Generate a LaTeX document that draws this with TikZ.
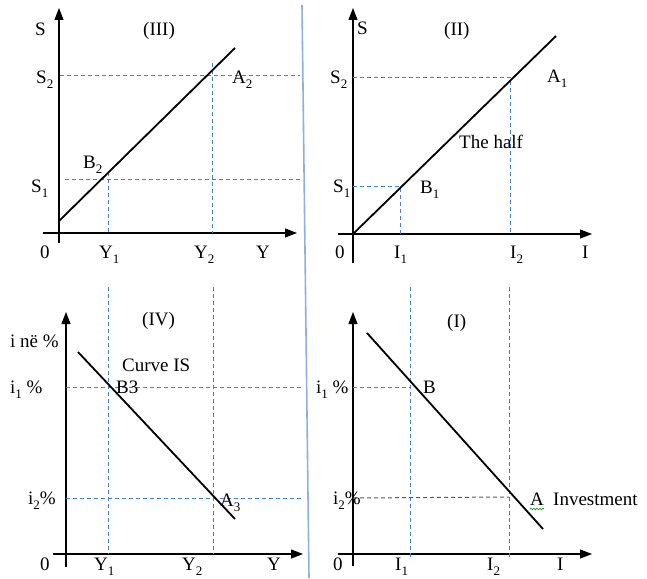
\documentclass[tikz,border=0pt]{standalone}
\usepackage{fontspec}
\setmainfont{Liberation Serif}
\usepackage{tikz}
\usetikzlibrary{arrows.meta,positioning,calc,decorations.pathmorphing}
\definecolor{guideblue}{RGB}{68,130,205}
\definecolor{splitblue}{RGB}{143,176,222}
\newcommand{\lo}[1]{\raisebox{-0.28em}{\fontsize{13}{13}\selectfont #1}}

\begin{document}
\begin{tikzpicture}[
        x=1pt, y=-1pt,
        lbl/.style={anchor=base west, inner sep=0pt, font=\fontsize{19}{21}\selectfont},
        axis/.style={-{Triangle[length=12pt, width=9pt]}, line width=1.2pt},
        curve/.style={line width=1.8pt},
        guide/.style={guideblue, line width=1pt, dash pattern=on 4pt off 3pt},
        guidegray/.style={gray!70!black, line width=1pt, dash pattern=on 4pt off 3pt}
    ]
    \useasboundingbox (0,0) rectangle (647,578);

    % Divider
    \coordinate (D1) at (302,5);
    \coordinate (D2) at (309,578);
    \draw[splitblue, line width=1.6pt] (D1) -- (D2);

    % Quadrant III (top left)
    \coordinate (O3) at (59,233);
    \coordinate (S3top) at (59,8);
    \coordinate (S3bot) at (59,243);
    \coordinate (Y3left) at (43,233);
    \coordinate (Y3right) at (297,233);
    \coordinate (C3a) at (59,221);
    \coordinate (C3b) at (235,48);
    \draw[axis] (S3bot) -- (S3top);
    \draw[axis] (Y3left) -- (Y3right);
    \draw[guide] (60,75) -- (300,75);
    \draw[guide] (65,179) -- (300,179);
    \draw[guide] (108,172) -- (108,233);
    \draw[guide] (212,63) -- (212,233);
    \draw[curve] (C3a) -- (C3b);

    \node[lbl] (s3) at (35,36) {S};
    \node[lbl] (q3) at (143,36) {(III)};
    \node[lbl] (s3b) at (36,83) {S\lo{2}};
    \node[lbl] (s3a) at (31,192) {S\lo{1}};
    \node[lbl] (b2) at (83,168) {B\lo{2}};
    \node[lbl] (a2) at (232,83) {A\lo{2}};
    \node[lbl] (z3) at (40,258) {0};
    \node[lbl] (y3a) at (99,258) {Y\lo{1}};
    \node[lbl] (y3b) at (194,258) {Y\lo{2}};
    \node[lbl] (y3) at (256,258) {Y};

    % Quadrant II (top right)
    \coordinate (O2) at (353,234);
    \coordinate (S2top) at (353,8);
    \coordinate (S2bot) at (353,263);
    \coordinate (I2left) at (338,234);
    \coordinate (I2right) at (592,234);
    \coordinate (C2b) at (556,36);
    \draw[axis] (S2bot) -- (S2top);
    \draw[axis] (I2left) -- (I2right);
    \draw[guide] (353,77) -- (510,77) -- (510,234);
    \draw[guide] (353,186) -- (400,186) -- (400,234);
    \draw[curve] (O2) -- (C2b);

    \node[lbl] (s2) at (357,35) {S};
    \node[lbl] (q2) at (444,36) {(II)};
    \node[lbl] (s2b) at (330,83) {S\lo{2}};
    \node[lbl] (s2a) at (333,192) {S\lo{1}};
    \node[lbl] (b1) at (420,193) {B\lo{1}};
    \node[lbl] (a1) at (547,82) {A\lo{1}};
    \node[lbl] (half) at (459,148) {The half};
    \node[lbl] (z2) at (335,258) {0};
    \node[lbl] (i2a) at (394,258) {I\lo{1}};
    \node[lbl] (i2b) at (510,258) {I\lo{2}};
    \node[lbl] (i2) at (582,258) {I};

    % Quadrant IV (bottom left)
    \coordinate (O4) at (66,554);
    \coordinate (R4top) at (66,312);
    \coordinate (R4bot) at (66,567);
    \coordinate (Y4left) at (53,554);
    \coordinate (Y4right) at (303,554);
    \coordinate (C4a) at (78,352);
    \coordinate (C4b) at (235,519);
    \draw[axis] (R4bot) -- (R4top);
    \draw[axis] (Y4left) -- (Y4right);
    \draw[guide] (66,387) -- (303,387);
    \draw[guide] (66,498) -- (303,498);
    \draw[guide] (108,287) -- (108,554);
    \draw[guide] (213,287) -- (213,554);
    \draw[curve] (C4a) -- (C4b);

    \node[lbl] (r4) at (10,347) {i në \%};
    \node[lbl] (q4) at (142,325) {(IV)};
    \node[lbl] (is) at (122,371) {Curve IS};
    \node[lbl] (r4a) at (10,393) {i\lo{1} \%};
    \node[lbl] (b3) at (116,393) {B3};
    \node[lbl] (r4b) at (28,504) {i\lo{2}\%};
    \node[lbl] (a3) at (220,506) {A\lo{3}};
    \node[lbl] (z4) at (40,570) {0};
    \node[lbl] (y4a) at (94,570) {Y\lo{1}};
    \node[lbl] (y4b) at (182,570) {Y\lo{2}};
    \node[lbl] (y4) at (267,570) {Y};

    % Quadrant I (bottom right)
    \coordinate (O1) at (353,554);
    \coordinate (R1top) at (353,312);
    \coordinate (R1bot) at (353,566);
    \coordinate (I1left) at (338,554);
    \coordinate (I1right) at (592,554);
    \coordinate (C1a) at (367,333);
    \coordinate (C1b) at (543,529);
    \draw[axis] (R1bot) -- (R1top);
    \draw[axis] (I1left) -- (I1right);
    \draw[guide] (353,387) -- (410,387);
    \draw[guide] (410,287) -- (410,560);
    \draw[guide] (509,287) -- (509,557);
    \draw[guidegray] (353,498) -- (509,497);
    \draw[curve] (C1a) -- (C1b);

    \node[lbl] (q1) at (447,327) {(I)};
    \node[lbl] (r1a) at (316,393) {i\lo{1} \%};
    \node[lbl] (b0) at (423,393) {B};
    \node[lbl] (r1b) at (333,504) {i\lo{2}\%};
    \node[lbl] (a0) at (530,505) {A};
    \node[lbl] (inv) at (553,505) {Investment};
    \node[lbl] (z1) at (333,570) {0};
    \node[lbl] (i1a) at (395,570) {I\lo{1}};
    \node[lbl] (i1b) at (487,570) {I\lo{2}};
    \node[lbl] (i1) at (557,570) {I};

    % spell-check mark under A
    \draw[green!60!black, line width=0.6pt, decorate,
          decoration={snake, amplitude=0.8pt, segment length=3pt}]
        ($(a0.base west)+(0,4)$) -- ($(a0.base east)+(0,4)$);
\end{tikzpicture}
\end{document}
